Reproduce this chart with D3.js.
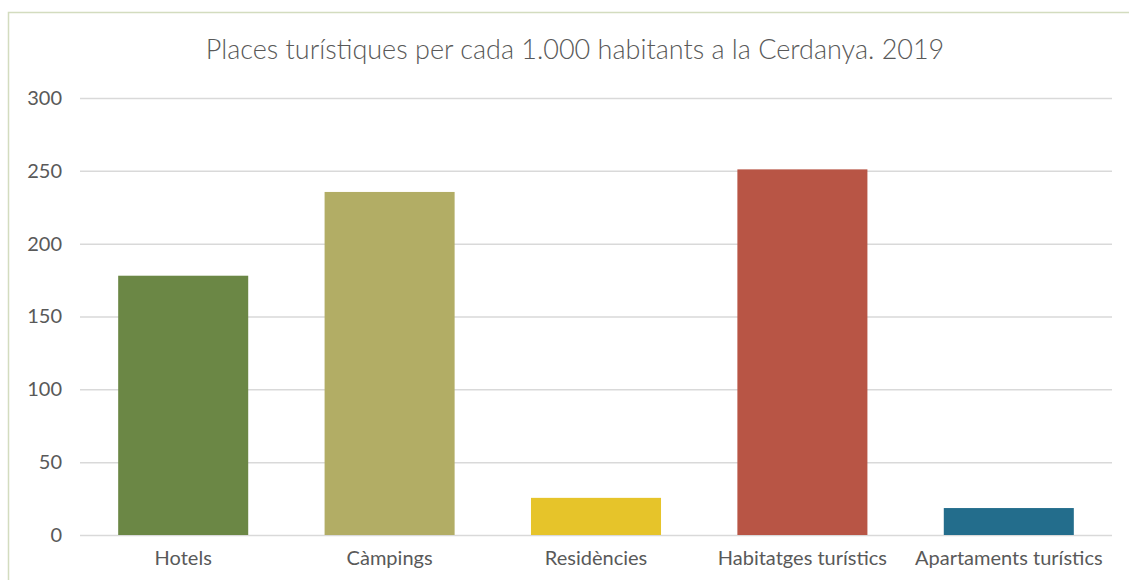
<!DOCTYPE html>
<html>
<head>
<meta charset="utf-8">
<script src="https://cdn.jsdelivr.net/npm/d3@7"></script>
<style>
  html, body { margin: 0; padding: 0; background: #fff; }
  svg { display: block; }
  text { font-family: Lato, "Open Sans", sans-serif; fill: #595959; }
</style>
</head>
<body>
<svg id="chart" width="1129" height="580"></svg>
<script>
// Places turístiques per cada 1.000 habitants (Cerdanya, 2019)
const categories = ["Hotels", "Càmpings", "Residències", "Habitatges turístics", "Apartaments turístics"];
const values = [178, 235.5, 25.5, 251, 18.5];
const colors = ["#6b8745", "#b2ad65", "#e6c42a", "#b85545", "#236d8c"];
const yTicks = [0, 50, 100, 150, 200, 250, 300];
const title = "Places turístiques per cada 1.000 habitants a la Cerdanya. 2019";

const svg = d3.select("#chart");
const W = 1129, H = 580;
const margin = { top: 98, right: 17, bottom: 45, left: 80 };
const plotW = W - margin.left - margin.right;
const plotH = H - margin.top - margin.bottom;

// outer frame
svg.append("rect")
  .attr("x", 8.5).attr("y", 12.5)
  .attr("width", W + 20).attr("height", H + 20)
  .attr("fill", "none").attr("stroke", "#d3dcbf").attr("stroke-width", 1.5);

svg.append("text")
  .attr("x", 575).attr("y", 59)
  .attr("text-anchor", "middle")
  .style("font-size", "27px").style("font-weight", 300)
  .text(title);

const g = svg.append("g").attr("transform", `translate(${margin.left},${margin.top})`);

const x = d3.scaleBand().domain(categories).range([0, plotW]).paddingInner(0.37).paddingOuter(0.185);
const y = d3.scaleLinear().domain([0, 300]).range([plotH, 0]);

// gridlines + value labels
const yAxis = d3.axisLeft(y).tickValues(yTicks).tickSize(-plotW).tickPadding(18);
const ya = g.append("g").call(yAxis);
ya.select(".domain").remove();
ya.selectAll(".tick line").attr("stroke", "#d9d9d9").attr("stroke-width", 1.5);
ya.selectAll(".tick text").style("font-size", "20px").attr("fill", "#595959");

g.selectAll("rect.bar")
  .data(categories)
  .join("rect")
  .attr("class", "bar")
  .attr("x", d => x(d))
  .attr("width", x.bandwidth())
  .attr("y", (d, i) => y(values[i]))
  .attr("height", (d, i) => plotH - y(values[i]))
  .attr("fill", (d, i) => colors[i]);

const xAxis = d3.axisBottom(x).tickSize(0).tickPadding(16);
const xa = g.append("g").attr("transform", `translate(0,${plotH})`).call(xAxis);
xa.select(".domain").remove();
xa.selectAll(".tick text").style("font-size", "20px").attr("fill", "#595959");
</script>
</body>
</html>
